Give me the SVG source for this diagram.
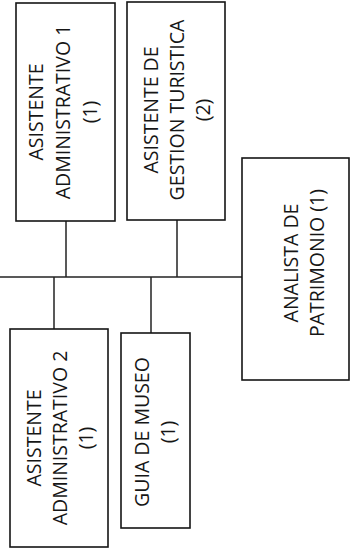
<svg xmlns="http://www.w3.org/2000/svg" width="356" height="553" viewBox="0 0 356 553">
  <style>
    .box { fill: #ffffff; stroke: #151515; stroke-width: 1.6; }
    .link { fill: none; stroke: #222222; stroke-width: 1.5; }
    .lbl { font-family: "Open Sans", "Noto Sans", sans-serif; font-size: 19.5px; fill: #161616; text-anchor: middle; dominant-baseline: central; }
  </style>
  <rect width="356" height="553" fill="#ffffff"/>

  <!-- connectors -->
  <g id="connectors">
    <line class="link" x1="0" y1="277" x2="242" y2="277"/>
    <line class="link" x1="66" y1="221" x2="66" y2="277"/>
    <line class="link" x1="177" y1="220" x2="177" y2="277"/>
    <line class="link" x1="54" y1="277" x2="54" y2="329"/>
    <line class="link" x1="151" y1="277" x2="151" y2="333"/>
  </g>

  <g id="asistente-administrativo-1">
    <rect class="box" x="16" y="3" width="99" height="218"/>
    <text class="lbl" transform="translate(35,112) rotate(-90)">ASISTENTE</text>
    <text class="lbl" transform="translate(62,112) rotate(-90)">ADMINISTRATIVO 1</text>
    <text class="lbl" transform="translate(89,112) rotate(-90)">(1)</text>
  </g>

  <g id="asistente-gestion-turistica">
    <rect class="box" x="127" y="2" width="98" height="218"/>
    <text class="lbl" transform="translate(150,110) rotate(-90)">ASISTENTE DE</text>
    <text class="lbl" transform="translate(176,110) rotate(-90)">GESTION TURISTICA</text>
    <text class="lbl" transform="translate(202,110) rotate(-90)">(2)</text>
  </g>

  <g id="analista-patrimonio">
    <rect class="box" x="242" y="158" width="107" height="222"/>
    <text class="lbl" transform="translate(290,263) rotate(-90)">ANALISTA DE</text>
    <text class="lbl" transform="translate(316,263) rotate(-90)">PATRIMONIO (1)</text>
  </g>

  <g id="asistente-administrativo-2">
    <rect class="box" x="10" y="329" width="98" height="218"/>
    <text class="lbl" transform="translate(33,438) rotate(-90)">ASISTENTE</text>
    <text class="lbl" transform="translate(59,438) rotate(-90)">ADMINISTRATIVO 2</text>
    <text class="lbl" transform="translate(85,438) rotate(-90)">(1)</text>
  </g>

  <g id="guia-museo">
    <rect class="box" x="121" y="333" width="69" height="195"/>
    <text class="lbl" transform="translate(141,432) rotate(-90)">GUIA DE MUSEO</text>
    <text class="lbl" transform="translate(167,432) rotate(-90)">(1)</text>
  </g>
</svg>
